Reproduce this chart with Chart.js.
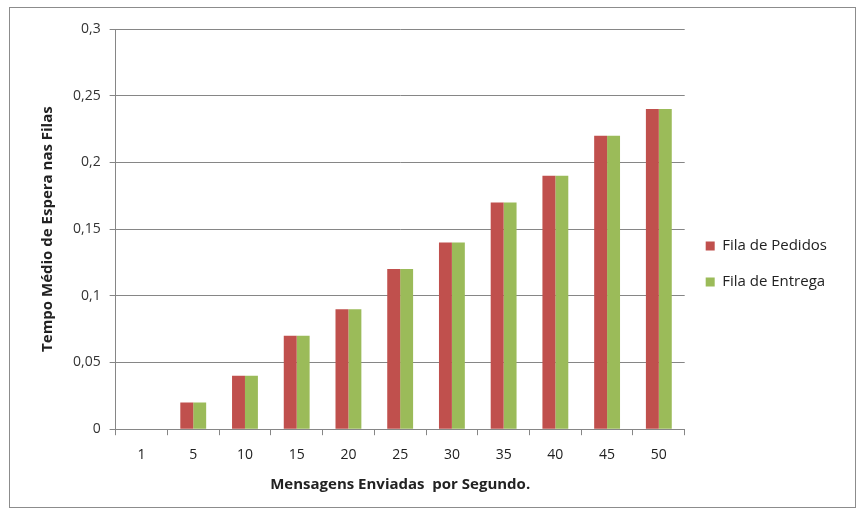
<!DOCTYPE html>
<html>
<head>
<meta charset="utf-8">
<script src="https://cdn.jsdelivr.net/npm/chart.js@4"></script>
<style>
  body { margin: 0; background: #fff; }
  #box { position: absolute; left: 9px; top: 7px; width: 845px; height: 499px; border: 1px solid #8c8c8c; }
</style>
</head>
<body>
<div id="box"><canvas id="grafico" width="845" height="499"></canvas></div>
<script>
// dados
const categorias = ['1', '5', '10', '15', '20', '25', '30', '35', '40', '45', '50'];
const filaPedidos = [0, 0.02, 0.04, 0.07, 0.09, 0.12, 0.14, 0.17, 0.19, 0.22, 0.24];
const filaEntrega = [0, 0.02, 0.04, 0.07, 0.09, 0.12, 0.14, 0.17, 0.19, 0.22, 0.24];

const fonte = 'Open Sans, Liberation Sans, sans-serif';

new Chart(document.getElementById('grafico'), {
  type: 'bar',
  data: {
    labels: categorias,
    datasets: [{
      label: 'Fila de Pedidos',
      data: filaPedidos,
      backgroundColor: '#C0504D',
      categoryPercentage: 0.5,
      barPercentage: 1
    }, {
      label: 'Fila de Entrega',
      data: filaEntrega,
      backgroundColor: '#9BBB59',
      categoryPercentage: 0.5,
      barPercentage: 1
    }]
  },
  options: {
    responsive: false,
    animation: false,
    layout: { padding: { top: 21, left: 25, right: 18, bottom: 9 } },
    plugins: {
      tooltip: { enabled: false },
      legend: {
        position: 'right',
        title: { display: true, text: ' ', padding: { top: 0 }, font: { size: 1 } },
        labels: {
          boxWidth: 9,
          boxHeight: 9,
          padding: 21,
          color: '#222',
          font: { family: fonte, size: 15 }
        }
      }
    },
    scales: {
      x: {
        grid: { display: true, drawOnChartArea: false, color: '#868686', tickLength: 6 },
        border: { color: '#868686' },
        ticks: { color: '#222', font: { family: fonte, size: 14 }, padding: 11 },
        title: { display: true, text: 'Mensagens Enviadas  por Segundo.', color: '#222',
                 font: { family: fonte, size: 15, weight: 'bold' }, padding: { top: 2 } }
      },
      y: {
        min: 0,
        max: 0.3,
        ticks: {
          stepSize: 0.05,
          color: '#333',
          font: { family: fonte, size: 14 },
          padding: 9,
          callback: v => String(Number(v.toFixed(2))).replace('.', ',')
        },
        grid: { color: '#868686', tickLength: 6 },
        border: { color: '#868686' },
        title: { display: true, text: 'Tempo Médio de Espera nas Filas', color: '#222',
                 font: { family: fonte, size: 15, weight: 'bold' }, padding: { bottom: 7 } }
      }
    }
  }
});
</script>
</body>
</html>
